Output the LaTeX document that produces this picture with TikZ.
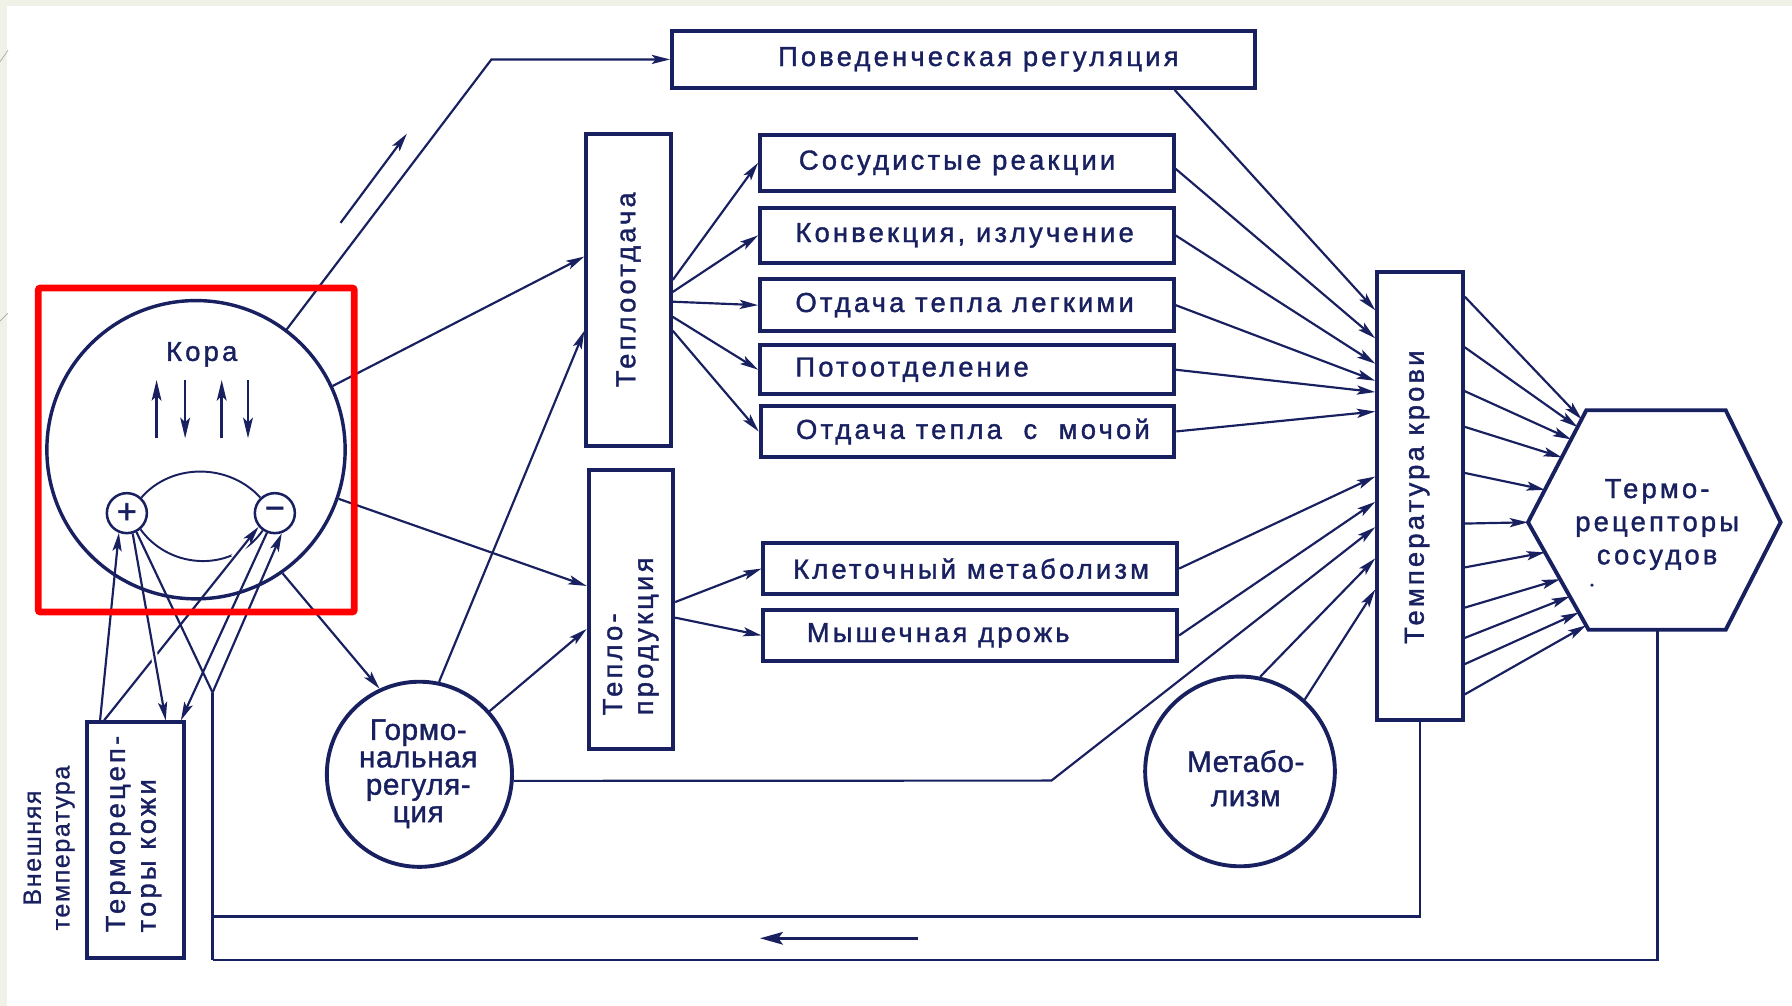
\documentclass[tikz,border=0pt]{standalone}
\usepackage{fontspec}
\setmainfont{Liberation Sans}
\newfontfamily\spacedfont[LetterSpace=11.5,FakeBold=1.3]{Liberation Sans}
\newfontfamily\circfont[LetterSpace=2,FakeBold=1.3]{Liberation Sans}
\newfontfamily\extfont[LetterSpace=6,FakeBold=0.8]{Liberation Sans}
\newfontfamily\signfont[FakeBold=1.5]{Liberation Sans}
\usetikzlibrary{arrows.meta,calc}
\definecolor{ink}{RGB}{24,32,96}
\definecolor{slide}{RGB}{240,242,232}
\newcommand\boxtxt[1]{\makebox[300pt][l]{#1}}
\begin{document}
\begin{tikzpicture}[x=1pt,y=-1pt,
  box/.style={draw=ink,line width=3.4pt,rectangle,inner sep=0pt},
  btxt/.style={text=ink,font=\spacedfont\fontsize{24}{27}\selectfont},
  rbox/.style={box,btxt,minimum width=362pt,inner xsep=30pt},
  ctxt/.style={text=ink,font=\circfont\fontsize{26}{24}\selectfont,align=center,inner sep=0pt},
  circ/.style={circle,draw=ink,line width=3.4pt,inner sep=0pt},
  con/.style={draw=ink,line width=1.9pt},
  arr/.style={con,-{Stealth[length=16pt,width=8pt,inset=3.5pt]}},
  karr/.style={con,line width=2.2pt,-{Stealth[length=18pt,width=8.5pt,inset=4pt]}},
  fb/.style={draw=ink,line width=2.4pt},
  arcst/.style={draw=ink,line width=1.7pt},
]
% background
\useasboundingbox (0,0) rectangle (1568,880);
\fill[white] (0,0) rectangle (1568,880);
\fill[slide] (0,0) rectangle (6,880);
\fill[slide] (0,0) rectangle (1568,5);
\draw[gray!70,line width=0.6pt] (0,54) -- (7,44);
\draw[gray!70,line width=0.6pt] (0,281) -- (7,274);

% boxes
\node[box,btxt,minimum width=510pt,minimum height=50pt] (beh) at (843,52) {\hspace*{26pt}Поведенческая регуляция};
\node[rbox,minimum height=49pt] (sos) at (846,142.5) {\boxtxt{\hspace*{3pt}Сосудистые реакции}};
\node[rbox,minimum height=48pt] (konv) at (846,206) {\boxtxt{Конвекция, излучение}};
\node[rbox,minimum height=46pt] (legk) at (846,267) {\boxtxt{Отдача тепла легкими}};
\node[rbox,minimum height=43pt] (poto) at (846,323.5) {\boxtxt{Потоотделение}};
\node[rbox,minimum height=45pt] (moch) at (846.5,377.5) {\boxtxt{Отдача тепла\ \ с\ \ мочой}};
\node[rbox,minimum height=45pt] (klet) at (849,497.5) {\boxtxt{\hspace*{-5pt}Клеточный метаболизм}};
\node[rbox,minimum height=44pt] (mysh) at (849,556) {\boxtxt{\hspace*{7pt}Мышечная дрожь}};

\node[box,minimum width=74pt,minimum height=273pt] (teplo) at (550,253.5) {};
\node[btxt,rotate=90] (teplotxt) at (teplo.center) {Теплоотдача};
\node[box,minimum width=74pt,minimum height=244pt] (tprod) at (552,533) {};
\node[btxt,rotate=90,align=left,anchor=west,inner sep=0pt] (tprodtxt) at (552,626) {Тепло-\\продукция};
\node[box,minimum width=75pt,minimum height=392pt] (temp) at (1242.5,434) {};
\node[btxt,rotate=90] (temptxt) at (1240,435) {Температура крови};
\node[box,minimum width=85pt,minimum height=206pt] (skin) at (118.5,735) {};
\node[btxt,rotate=90,align=left,anchor=west,inner sep=0pt] (skintxt) at (117,816) {Терморецеп-\\торы кожи};
\node[text=ink,font=\extfont\fontsize{22}{25}\selectfont,rotate=90,align=center,inner sep=0pt] (ext) at (43,742) {Внешняя\\температура};

% hexagon
\coordinate (hL) at (1337,457);
\coordinate (hTL) at (1388,359);
\coordinate (hTR) at (1510,359);
\coordinate (hR) at (1558,457);
\coordinate (hBR) at (1510,551);
\coordinate (hBL) at (1390,551);
\draw[ink,line width=3.4pt,line join=miter] (hTL) -- (hTR) -- (hR) -- (hBR) -- (hBL) -- (hL) -- cycle;
\node[btxt,align=center,font=\spacedfont\fontsize{24}{29}\selectfont] (hex) at (1450,459) {Термо-\\рецепторы\\сосудов};
\fill[ink] (1393,512) circle (1.6);

% circles
\node[circ,minimum size=162pt] (gorm) at (367,677.5) {};
\node[ctxt] (gormtxt) at (366,677) {Гормо-\\нальная\\регуля-\\ция};
\node[circ,minimum size=166pt] (met) at (1085,675) {};
\node[ctxt,font=\circfont\fontsize{26}{30}\selectfont] (mettxt) at (1090,681) {Метабо-\\лизм};
\node[circ,line width=3pt,minimum size=261pt] (kora) at (171.5,393.5) {};
\node[btxt] (koratxt) at (176.5,310) {Кора};
\node[circle,draw=ink,line width=2.2pt,minimum size=35pt,inner sep=0pt,text=ink,font=\signfont\fontsize{30}{30}\selectfont] (plus) at (111,449) {+};
\node[circle,draw=ink,line width=2.2pt,minimum size=35pt,inner sep=0pt,text=ink,font=\signfont\fontsize{30}{30}\selectfont] (minus) at (240.5,449) {\char"2212};

% arrows inside Kora
\draw[karr] (137,383.5) -- (137,332.5);
\draw[karr] (162,332.5) -- (162,383.5);
\draw[karr] (194,383.5) -- (194,332.5);
\draw[karr] (217,332.5) -- (217,383.5);
\draw[arcst] (plus.47) .. controls (150,405) and (200,405) .. (minus.133);
\draw[arcst] (plus.-50) .. controls (150,500) and (205,500) .. (minus.-125);

% skin receptor connections
\coordinate (sk1) at ($(skin.north west)!0.15!(skin.north east)$);
\coordinate (sk4) at ($(skin.north west)!0.19!(skin.north east)$);
\coordinate (sk2) at ($(skin.north west)!0.8!(skin.north east)$);
\coordinate (sk5) at ($(skin.north west)!0.95!(skin.north east)$);
\coordinate (fbV) at (186,606);
\coordinate (fbM) at (186,802);
\coordinate (fbB) at (186,840);
\draw[white,line width=6pt] ($(sk4)!0.84!(minus.-140)$) -- ($(sk4)!0.95!(minus.-140)$);
\draw[arr] (sk4) -- (minus.-140);
\draw[white,line width=6pt] ($(plus.-74)!0.6!(sk2)$) -- ($(plus.-74)!0.74!(sk2)$);
\draw[arr] (plus.-74) -- (sk2);
\draw[arr] (sk1) -- (plus.-112);
\draw[arr] (minus.-112) -- (sk5);
\draw[con] (fbV) -- (plus.-63);
\draw[arr] (fbV) -- (minus.-71);

% Kora outputs
\coordinate (bk) at (430,52);
\draw[arr] (kora.53) -- (bk) -- (beh.west);
\coordinate (sa1) at (298,195);
\coordinate (sa2) at (356,117);
\draw[arr] (sa1) -- (sa2);
\draw[arr] (kora.25) -- ($(teplo.north west)!0.395!(teplo.south west)$);
\draw[arr] (kora.-19) -- ($(tprod.north west)!0.418!(tprod.south west)$);
\draw[arr] (kora.-55) -- (gorm.115);

% hormonal outputs
\draw[arr] (gorm.78) -- ($(teplo.north west)!0.63!(teplo.south west)$);
\draw[arr] (gorm.42) -- ($(tprod.north west)!0.57!(tprod.south west)$);
\coordinate (gk) at (920,683);
\draw[arr] (gorm.-4) -- (gk) -- ($(temp.north west)!0.569!(temp.south west)$);

% heat loss fan
\foreach \f/\t in {0.469/sos,0.507/konv,0.538/legk,0.586/poto,0.630/moch}
  \draw[arr] ($(teplo.north east)!\f!(teplo.south east)$) -- (\t.west);
\draw[arr] ($(tprod.north east)!0.475!(tprod.south east)$) -- (klet.west);
\draw[arr] ($(tprod.north east)!0.53!(tprod.south east)$) -- (mysh.west);

% into blood temperature
\draw[arr] ($(beh.south west)!0.86!(beh.south east)$) -- ($(temp.north west)!0.089!(temp.south west)$);
\draw[arr] ($(sos.north east)!0.6!(sos.south east)$) -- ($(temp.north west)!0.151!(temp.south west)$);
\draw[arr] (konv.east) -- ($(temp.north west)!0.207!(temp.south west)$);
\draw[arr] (legk.east) -- ($(temp.north west)!0.245!(temp.south west)$);
\draw[arr] (poto.east) -- ($(temp.north west)!0.270!(temp.south west)$);
\draw[arr] (moch.east) -- ($(temp.north west)!0.313!(temp.south west)$);
\draw[arr] (klet.east) -- ($(temp.north west)!0.457!(temp.south west)$);
\draw[arr] (mysh.east) -- ($(temp.north west)!0.513!(temp.south west)$);
\draw[arr] (met.78) -- ($(temp.north west)!0.638!(temp.south west)$);
\draw[arr] (met.48) -- ($(temp.north west)!0.707!(temp.south west)$);

% blood temperature -> vessel thermoreceptors
\foreach \f/\g in {0.059/0.08,0.171/0.15,0.268/0.26,0.347/0.42,0.449/0.71}
  \draw[arr] ($(temp.north east)!\f!(temp.south east)$) -- ($(hTL)!\g!(hL)$);
\draw[arr] ($(temp.north east)!0.561!(temp.south east)$) -- (hL);
\foreach \f/\g in {0.658/0.28,0.747/0.53,0.814/0.69,0.872/0.84,0.939/0.96}
  \draw[arr] ($(temp.north east)!\f!(temp.south east)$) -- ($(hL)!\g!(hBL)$);

% feedback loops
\coordinate (hB) at ($(hBL)!0.5!(hBR)$);
\draw[fb] (temp.south) |- (fbM);
\draw[fb] (hB) |- (fbB);
\draw[fb] (fbV) -- (fbB);
\coordinate (ba1) at (803,821);
\coordinate (ba2) at (665,821);
\draw[draw=ink,line width=2.6pt,-{Stealth[length=20pt,width=11pt,inset=4pt]}] (ba1) -- (ba2);

% highlight
\draw[red,line width=6pt,rounded corners=2pt] (33.5,252) rectangle (310,535.5);
\end{tikzpicture}
\end{document}
